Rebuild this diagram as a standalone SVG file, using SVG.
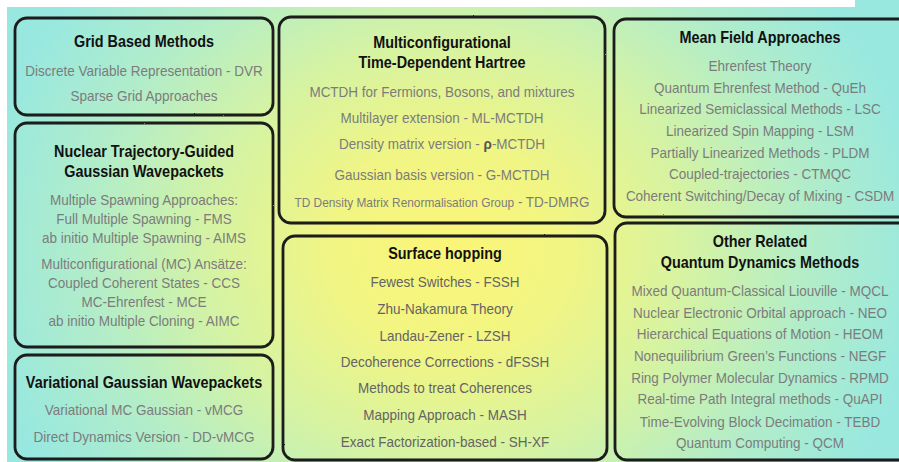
<svg xmlns="http://www.w3.org/2000/svg" width="899" height="462" viewBox="0 0 899 462">
<style>
.box{fill:none;stroke:#1b1b1b;stroke-width:2.8;filter:url(#rough)}
.title{font-family:"Liberation Sans",Arial,sans-serif;font-weight:bold;font-size:16px;fill:#111;text-anchor:middle}
.item{font-family:"Liberation Sans",Arial,sans-serif;font-size:15px;fill:#7c7c7c;text-anchor:middle}
.dark .item{fill:#646464}
.small{font-size:13.2px}
</style>
<defs>
<radialGradient id="bg" gradientUnits="userSpaceOnUse" cx="450" cy="250" r="475" gradientTransform="translate(450 250) scale(1 0.88) translate(-450 -250)">
<stop offset="0" stop-color="#fbf578"/>
<stop offset="0.25" stop-color="#f1f584"/>
<stop offset="0.5" stop-color="#d6f3a2"/>
<stop offset="0.75" stop-color="#b3edc8"/>
<stop offset="1" stop-color="#98e8e0"/>
</radialGradient>
<filter id="rough" x="-5%" y="-5%" width="110%" height="110%">
<feTurbulence type="fractalNoise" baseFrequency="0.9" numOctaves="1" seed="4" result="n"/>
<feDisplacementMap in="SourceGraphic" in2="n" scale="1.6" xChannelSelector="R" yChannelSelector="G"/>
</filter>
</defs>
<rect x="0" y="0" width="899" height="462" fill="#ffffff"/>
<rect x="7" y="7" width="892" height="455" fill="url(#bg)"/>
<rect x="855" y="0" width="44" height="7" fill="url(#bg)"/>

<g id="connectors"/>

<g id="grid-based-methods">
<rect class="box" x="15" y="18" width="258" height="97" rx="12"/>
<g transform="translate(144,0) scale(0.9,1)">
<text class="title" y="47">Grid Based Methods</text>
<text class="item" y="76">Discrete Variable Representation - DVR</text>
<text class="item" y="101">Sparse Grid Approaches</text>
</g>
</g>

<g id="nuclear-trajectory-guided">
<rect class="box" x="15" y="123" width="258" height="224" rx="12"/>
<g transform="translate(144,0) scale(0.9,1)">
<text class="title" y="157">Nuclear Trajectory-Guided</text>
<text class="title" y="177">Gaussian Wavepackets</text>
<text class="item" y="205">Multiple Spawning Approaches:</text>
<text class="item" y="224">Full Multiple Spawning - FMS</text>
<text class="item" y="243">ab initio Multiple Spawning - AIMS</text>
<text class="item" y="269">Multiconfigurational (MC) Ansätze:</text>
<text class="item" y="288">Coupled Coherent States - CCS</text>
<text class="item" y="307">MC-Ehrenfest - MCE</text>
<text class="item" y="326">ab initio Multiple Cloning - AIMC</text>
</g>
</g>

<g id="variational-gaussian-wavepackets">
<rect class="box" x="15" y="355" width="258" height="104" rx="12"/>
<g transform="translate(144,0) scale(0.9,1)">
<text class="title" y="388">Variational Gaussian Wavepackets</text>
<text class="item" y="415">Variational MC Gaussian - vMCG</text>
<text class="item" y="442">Direct Dynamics Version - DD-vMCG</text>
</g>
</g>

<g id="mctdh">
<rect class="box" x="279" y="17" width="326" height="206" rx="12"/>
<g transform="translate(442,0) scale(0.9,1)">
<text class="title" y="48">Multiconfigurational</text>
<text class="title" y="68">Time-Dependent Hartree</text>
<text class="item" y="97">MCTDH for Fermions, Bosons, and mixtures</text>
<text class="item" y="123">Multilayer extension - ML-MCTDH</text>
<text class="item" y="149">Density matrix version - <tspan font-weight="bold" fill="#555">ρ</tspan>-MCTDH</text>
<text class="item" y="180">Gaussian basis version - G-MCTDH</text>
<text class="item" y="207"><tspan class="small">TD Density Matrix Renormalisation Group</tspan> - TD-DMRG</text>
</g>
</g>

<g id="surface-hopping" class="dark">
<rect class="box" x="283" y="236" width="324" height="224" rx="12"/>
<g transform="translate(445,0) scale(0.9,1)">
<text class="title" y="259">Surface hopping</text>
<text class="item" y="287">Fewest Switches - FSSH</text>
<text class="item" y="314">Zhu-Nakamura Theory</text>
<text class="item" y="341">Landau-Zener - LZSH</text>
<text class="item" y="367">Decoherence Corrections - dFSSH</text>
<text class="item" y="393">Methods to treat Coherences</text>
<text class="item" y="420">Mapping Approach - MASH</text>
<text class="item" y="447">Exact Factorization-based - SH-XF</text>
</g>
</g>

<g id="mean-field-approaches">
<rect class="box" x="614" y="19" width="300" height="198" rx="12"/>
<g transform="translate(760,0) scale(0.9,1)">
<text class="title" y="43">Mean Field Approaches</text>
<text class="item" y="71">Ehrenfest Theory</text>
<text class="item" y="93">Quantum Ehrenfest Method - QuEh</text>
<text class="item" y="114">Linearized Semiclassical Methods - LSC</text>
<text class="item" y="136">Linearized Spin Mapping - LSM</text>
<text class="item" y="158">Partially Linearized Methods - PLDM</text>
<text class="item" y="179">Coupled-trajectories - CTMQC</text>
<text class="item" y="201">Coherent Switching/Decay of Mixing - CSDM</text>
</g>
</g>

<g id="other-related-methods">
<rect class="box" x="615" y="223" width="300" height="237" rx="12"/>
<g transform="translate(760,0) scale(0.9,1)">
<text class="title" y="247">Other Related</text>
<text class="title" y="268">Quantum Dynamics Methods</text>
<text class="item" y="296">Mixed Quantum-Classical Liouville - MQCL</text>
<text class="item" y="318">Nuclear Electronic Orbital approach - NEO</text>
<text class="item" y="339">Hierarchical Equations of Motion - HEOM</text>
<text class="item" y="361">Nonequilibrium Green’s Functions - NEGF</text>
<text class="item" y="383">Ring Polymer Molecular Dynamics - RPMD</text>
<text class="item" y="404">Real-time Path Integral methods - QuAPI</text>
<text class="item" y="427">Time-Evolving Block Decimation - TEBD</text>
<text class="item" y="448">Quantum Computing - QCM</text>
</g>
</g>
</svg>
